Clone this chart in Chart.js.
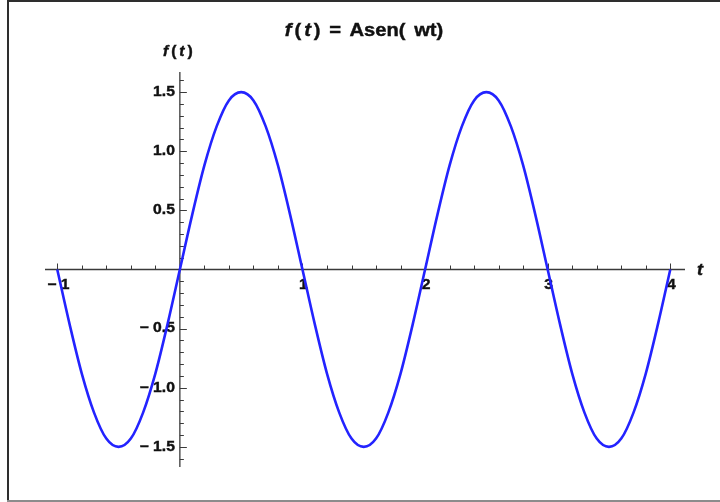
<!DOCTYPE html>
<html>
<head>
<meta charset="utf-8">
<script src="https://cdn.jsdelivr.net/npm/chart.js@4.4.1/dist/chart.umd.min.js"></script>
<style>
  html, body { margin: 0; padding: 0; background: #fff; }
  #wrap { width: 720px; height: 502px; position: relative; }
</style>
</head>
<body>
<div id="wrap"><canvas id="sineChart"></canvas></div>
<script>
// f(t) = 1.5 sen(pi t), sampled every 0.1 on t in [-1, 4]
const tValues = [
  -1, -0.9, -0.8, -0.7, -0.6, -0.5, -0.4, -0.3, -0.2, -0.1,
  0, 0.1, 0.2, 0.3, 0.4, 0.5, 0.6, 0.7, 0.8, 0.9,
  1, 1.1, 1.2, 1.3, 1.4, 1.5, 1.6, 1.7, 1.8, 1.9,
  2, 2.1, 2.2, 2.3, 2.4, 2.5, 2.6, 2.7, 2.8, 2.9,
  3, 3.1, 3.2, 3.3, 3.4, 3.5, 3.6, 3.7, 3.8, 3.9,
  4
];
const fValues = [
  0, -0.46, -0.88, -1.21, -1.43, -1.5, -1.43, -1.21, -0.88, -0.46,
  0, 0.46, 0.88, 1.21, 1.43, 1.5, 1.43, 1.21, 0.88, 0.46,
  0, -0.46, -0.88, -1.21, -1.43, -1.5, -1.43, -1.21, -0.88, -0.46,
  0, 0.46, 0.88, 1.21, 1.43, 1.5, 1.43, 1.21, 0.88, 0.46,
  0, -0.46, -0.88, -1.21, -1.43, -1.5, -1.43, -1.21, -0.88, -0.46,
  0
];

// axis ticks and their labels
const xTicks = [-1, 1, 2, 3, 4];
const xTickLabels = ['\u2212 1', '1', '2', '3', '4'];
const yTicks = [-1.5, -1, -0.5, 0.5, 1, 1.5];
const yTickLabels = ['\u2212 1.5', '\u2212 1.0', '\u2212 0.5', '0.5', '1.0', '1.5'];

const FONT = "'Liberation Sans', Arial, sans-serif";
const TEXT_SX = 1.12; // glyphs are drawn a bit wide
const AXIS_COLOR = '#3a3a3a';

// fill plus a hairline stroke, for a heavier bold
function heavyText(ctx, s, x, y) {
  ctx.fillText(s, x, y);
  ctx.lineWidth = 0.4;
  ctx.strokeStyle = ctx.fillStyle;
  ctx.strokeText(s, x, y);
}

// draws a run of [text, italic] pieces, stretched horizontally
function drawPieces(ctx, pieces, cx, cy, size, gap, sx) {
  const widths = pieces.map(([s, it]) => {
    ctx.font = (it ? 'italic ' : '') + 'bold ' + size + 'px ' + FONT;
    return ctx.measureText(s).width * sx;
  });
  const total = widths.reduce((a, b) => a + b, 0) + gap * (pieces.length - 1);
  let x = cx - total / 2;
  pieces.forEach(([s, it], i) => {
    ctx.font = (it ? 'italic ' : '') + 'bold ' + size + 'px ' + FONT;
    ctx.save();
    ctx.translate(x, cy);
    ctx.scale(sx, 1);
    ctx.textAlign = 'left';
    ctx.textBaseline = 'middle';
    heavyText(ctx, s, 0, 0);
    ctx.restore();
    x += widths[i] + gap;
  });
}

function drawLabel(ctx, text, x, y, align) {
  ctx.save();
  ctx.translate(x, y);
  ctx.scale(TEXT_SX, 1);
  ctx.font = 'bold 14px ' + FONT;
  ctx.textAlign = align;
  ctx.textBaseline = 'middle';
  heavyText(ctx, text, 0, 0);
  ctx.restore();
}

// Mathematica-style axes crossing at the origin, with minor ticks
const crossAxes = {
  id: 'crossAxes',
  beforeDatasetsDraw(chart) {
    const { ctx, chartArea: area, scales: { x, y } } = chart;
    const x0 = x.getPixelForValue(0);
    const y0 = y.getPixelForValue(0);
    ctx.save();

    // frame
    ctx.fillStyle = '#2e2e2e';
    ctx.fillRect(7, 0, 2, 501);
    ctx.fillRect(7, 0, 713, 2);
    ctx.fillStyle = '#8c8c8c';
    ctx.fillRect(7, 500, 713, 2);

    ctx.strokeStyle = AXIS_COLOR;
    ctx.lineWidth = 1.3;
    ctx.beginPath();
    ctx.moveTo(area.left, y0);
    ctx.lineTo(area.right, y0);
    ctx.moveTo(x0, area.top);
    ctx.lineTo(x0, area.bottom);
    ctx.stroke();

    ctx.lineWidth = 1;
    ctx.beginPath();
    // x ticks every 0.2, upward
    for (let i = -5; i <= 20; i++) {
      if (i === 0) continue;
      const px = Math.round(x.getPixelForValue(i / 5)) + 0.5;
      const len = i % 5 === 0 ? 6 : 4;
      ctx.moveTo(px, y0);
      ctx.lineTo(px, y0 - len);
    }
    // y ticks every 0.1, to the right
    for (let i = -16; i <= 16; i++) {
      if (i === 0) continue;
      const py = Math.round(y.getPixelForValue(i / 10)) + 0.5;
      const len = i % 5 === 0 ? 7 : 4;
      ctx.moveTo(x0, py);
      ctx.lineTo(x0 + len, py);
    }
    ctx.stroke();

    ctx.fillStyle = '#111';
    xTicks.forEach((v, i) => drawLabel(ctx, xTickLabels[i], x.getPixelForValue(v) + 1, y0 + 16, 'center'));
    yTicks.forEach((v, i) => drawLabel(ctx, yTickLabels[i], x0 - 5, y.getPixelForValue(v), 'right'));

    // axis names and title
    drawPieces(ctx, [['f', true], ['(', false], ['t', true], [')', false]], x0 - 2, 52, 14, 3, TEXT_SX);
    drawPieces(ctx, [['t', true]], area.right + 15, y0 + 1, 16, 0, TEXT_SX);
    drawPieces(ctx, [['f', true], ['(', false], ['t', true], [')', false], [' = ', false], ['Asen(', false], [' wt)', false]],
      364, 31, 18, 3, 1.12);
    ctx.restore();
  }
};

new Chart(document.getElementById('sineChart').getContext('2d'), {
  type: 'line',
  data: {
    datasets: [{
      label: 'f(t)',
      data: tValues.map((t, i) => ({ x: t, y: fValues[i] })),
      borderColor: '#2323ff',
      borderWidth: 2.6,
      pointRadius: 0,
      fill: false,
      cubicInterpolationMode: 'monotone'
    }]
  },
  options: {
    responsive: true,
    maintainAspectRatio: false,
    animation: false,
    layout: { padding: { left: 45, right: 35, top: 72, bottom: 35 } },
    plugins: {
      legend: { display: false },
      tooltip: { enabled: false }
    },
    scales: {
      x: { type: 'linear', min: -1.1, max: 4.12, display: false },
      y: { type: 'linear', min: -1.67, max: 1.67, display: false }
    }
  },
  plugins: [crossAxes]
});
</script>
</body>
</html>
